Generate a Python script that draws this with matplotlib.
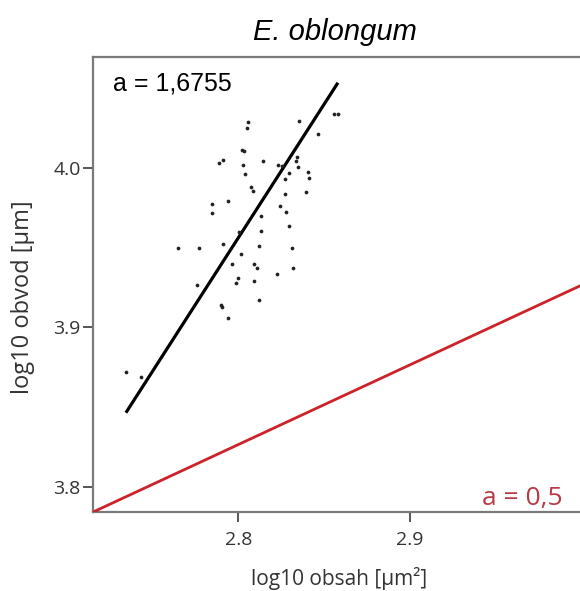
import matplotlib
matplotlib.use("Agg")
import matplotlib.pyplot as plt
import numpy as np

# data (log10 area, log10 perimeter)
log_area = [2.8058, 2.8052, 2.8019, 2.8033, 2.7912, 2.7887, 2.8145, 2.8027, 2.8039, 2.8072,
            2.8083, 2.7940, 2.7845, 2.7848, 2.8557, 2.8578, 2.8353, 2.8465, 2.8340, 2.8336,
            2.8232, 2.8252, 2.8345, 2.8295, 2.8407, 2.8271, 2.8411, 2.8271, 2.8392, 2.8242,
            2.7650, 2.7771, 2.7912, 2.8004, 2.8013, 2.8130, 2.8130, 2.8122, 2.8277, 2.8295,
            2.8314, 2.7961, 2.8093, 2.8107, 2.8316, 2.7998, 2.7984, 2.8093, 2.8225, 2.7757,
            2.8118, 2.7899, 2.7905, 2.7941, 2.7344, 2.7433]
log_perim = [4.0286, 4.0252, 4.0113, 4.0108, 4.0050, 4.0029, 4.0046, 4.0019, 3.9962, 3.9879,
             3.9856, 3.9795, 3.9774, 3.9716, 4.0338, 4.0338, 4.0296, 4.0213, 4.0067, 4.0046,
             4.0019, 4.0014, 4.0004, 3.9970, 3.9977, 3.9931, 3.9939, 3.9835, 3.9847, 3.9761,
             3.9500, 3.9500, 3.9523, 3.9597, 3.9461, 3.9699, 3.9607, 3.9511, 3.9726, 3.9636,
             3.9496, 3.9396, 3.9396, 3.9371, 3.9371, 3.9308, 3.9277, 3.9291, 3.9333, 3.9268,
             3.9174, 3.9143, 3.9126, 3.9057, 3.8723, 3.8689]

fit_slope = 1.6755
fit_intercept = -0.7351
fit_x_range = [2.7345, 2.858]

ref_slope = 0.5
ref_intercept = 2.4266
ref_x_range = [2.7155, 3.02]

x_ticks = [2.8, 2.9]
y_ticks = [3.8, 3.9, 4.0]
title = "E. oblongum"
xlabel = "log10 obsah [µm²]"
ylabel = "log10 obvod [µm]"
fit_label = "a = 1,6755"
ref_label = "a = 0,5"

W, H = 580, 591
fig = plt.figure(figsize=(W / 100, H / 100), dpi=100)
ax = fig.add_axes([93.3 / W, 79 / H, (585 - 93.3) / W, 455 / H])
ax.set_xlim(2.7155, 3.0019)
ax.set_ylim(3.7843, 4.0696)

fx = np.array(fit_x_range)
ax.plot(fx, fit_slope * fx + fit_intercept, color="black", lw=2.3, solid_capstyle="butt", zorder=3)
rx = np.array(ref_x_range)
ax.plot(rx, ref_slope * rx + ref_intercept, color="#cc2229", lw=2.0, zorder=3)
ax.plot(log_area, log_perim, "o", ms=2.7, color="#222222", mec="none", zorder=4)

for s in ax.spines.values():
    s.set_color("#7a7a7a")
    s.set_linewidth(1.6)
ax.set_xticks(x_ticks)
ax.set_yticks(y_ticks)
ax.set_xticklabels([f"{v:.1f}" for v in x_ticks], family="Open Sans", fontsize=14, color="#333333")
ax.set_yticklabels([f"{v:.1f}" for v in y_ticks], family="Open Sans", fontsize=14, color="#333333")
ax.tick_params(direction="out", length=7, width=1.4, color="#555555")
ax.tick_params(axis="x", pad=7)
ax.tick_params(axis="y", pad=2)
ax.set_xlabel(xlabel, family="Open Sans", fontsize=15, color="#333333", va="center")
ax.xaxis.set_label_coords(0.5, (512 - 578) / 455)
ax.set_ylabel(ylabel, family="Open Sans", fontsize=17, color="#333333", va="center")
ax.yaxis.set_label_coords((23 - 93.3) / 491.7, (512 - 297) / 455)

fig.text(335 / W, 1 - 32 / H, title, family="Liberation Sans", style="italic",
         fontsize=21, ha="center", va="center", color="black")
fig.text(113 / W, 1 - 91 / H, fit_label, family="Liberation Sans", fontsize=18,
         ha="left", va="baseline", color="black")
fig.text(563 / W, 1 - 505 / H, ref_label, family="Open Sans", fontsize=19,
         ha="right", va="baseline", color="#b83a44")

fig.savefig("out.png", dpi=100)
